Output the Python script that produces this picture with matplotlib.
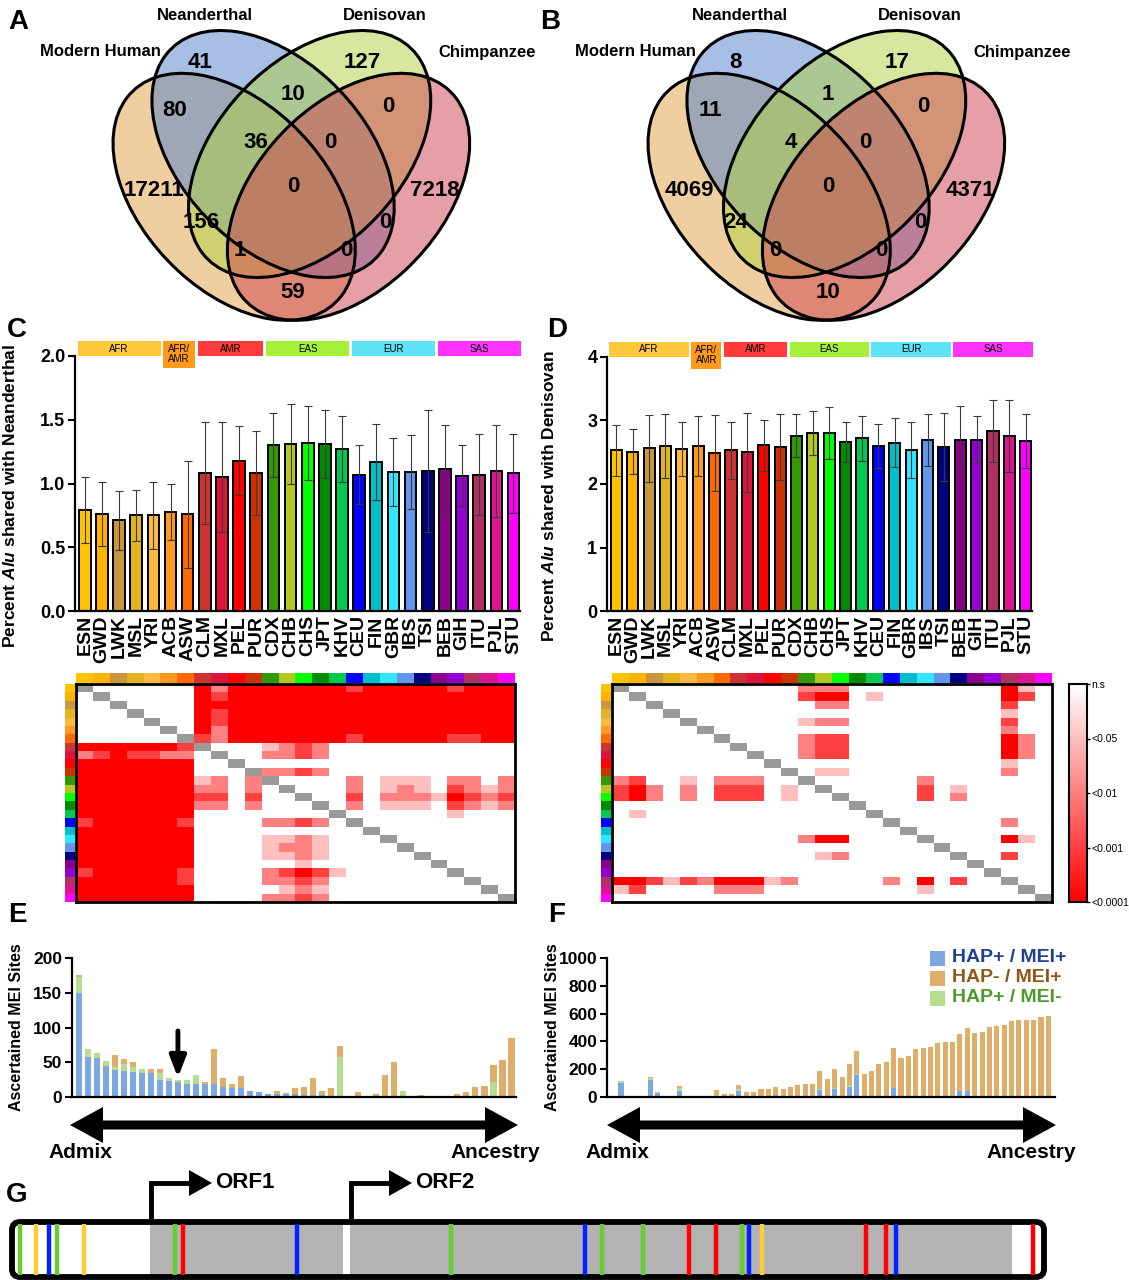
import numpy as np
import matplotlib
matplotlib.use('Agg')
import matplotlib.pyplot as plt
from matplotlib.patches import Ellipse, Rectangle, Polygon, FancyBboxPatch
from matplotlib.colors import ListedColormap, LinearSegmentedColormap
import matplotlib.transforms as mtransforms

plt.rcParams['font.family'] = ['Liberation Sans', 'DejaVu Sans']
plt.rcParams['font.weight'] = 'bold'
plt.rcParams['axes.labelweight'] = 'bold'
plt.rcParams['mathtext.fontset'] = 'custom'
plt.rcParams['mathtext.it'] = 'Liberation Sans:italic:bold'
plt.rcParams['mathtext.rm'] = 'Liberation Sans:bold'
plt.rcParams['mathtext.bf'] = 'Liberation Sans:bold'

# ------------------------------------------------------------------ data
venn_set_names = ['Modern Human', 'Neanderthal', 'Denisovan', 'Chimpanzee']
venn_regions = ['1000', '0100', '0010', '0001', '1100', '0110', '0011', '1110',
                '0111', '1111', '1010', '0101', '1011', '1101', '1001']
venn_A_counts = [17211, 41, 127, 7218, 80, 10, 0, 36, 0, 0, 156, 0, 1, 0, 59]
venn_B_counts = [4069, 8, 17, 4371, 11, 1, 0, 4, 0, 0, 24, 0, 0, 0, 10]

populations = ['ESN', 'GWD', 'LWK', 'MSL', 'YRI', 'ACB', 'ASW', 'CLM', 'MXL', 'PEL',
               'PUR', 'CDX', 'CHB', 'CHS', 'JPT', 'KHV', 'CEU', 'FIN', 'GBR', 'IBS',
               'TSI', 'BEB', 'GIH', 'ITU', 'PJL', 'STU']
pop_colors = ['#FFC400', '#FFB300', '#C8963E', '#E2B41F', '#FFB940', '#FF9A1E', '#FF6A00',
              '#CC3333', '#DC143C', '#FF0000', '#CC3300', '#339900', '#B2C81E', '#00FF00',
              '#008B00', '#00C850', '#0000FF', '#00BFC8', '#33E6FF', '#6495ED', '#000080',
              '#8B008B', '#9400D3', '#B03060', '#DC1490', '#FF00FF']
super_pops = ['AFR', 'AFR/\nAMR', 'AMR', 'EAS', 'EUR', 'SAS']
super_first = [0, 5, 7, 11, 16, 21]
super_last = [4, 6, 10, 15, 20, 25]
super_colors = ['#FFC83C', '#FF9A1A', '#FF3B3B', '#A6F03A', '#5DE3F5', '#FF33FF']

neand_pct = [0.79, 0.76, 0.71, 0.75, 0.75, 0.78, 0.76, 1.08, 1.05, 1.18, 1.08, 1.30, 1.31,
             1.32, 1.31, 1.27, 1.07, 1.17, 1.09, 1.09, 1.10, 1.11, 1.06, 1.07, 1.10, 1.08]
neand_sd = [0.26, 0.25, 0.23, 0.20, 0.26, 0.22, 0.42, 0.40, 0.43, 0.27, 0.33, 0.25, 0.31,
            0.29, 0.27, 0.26, 0.23, 0.30, 0.27, 0.29, 0.48, 0.35, 0.24, 0.32, 0.36, 0.31]
denis_pct = [2.53, 2.51, 2.56, 2.60, 2.55, 2.60, 2.49, 2.53, 2.50, 2.61, 2.58, 2.76, 2.80,
             2.80, 2.66, 2.72, 2.60, 2.65, 2.53, 2.69, 2.58, 2.69, 2.70, 2.83, 2.76, 2.68]
denis_sd = [0.40, 0.36, 0.53, 0.50, 0.42, 0.47, 0.60, 0.45, 0.62, 0.40, 0.52, 0.34, 0.35,
            0.41, 0.32, 0.35, 0.35, 0.39, 0.44, 0.41, 0.54, 0.54, 0.37, 0.49, 0.57, 0.43]

sig_labels = ['n.s', '<0.05', '<0.01', '<0.001', '<0.0001']
# significance level per population pair (0 = n.s ... 4 = <0.0001)
sig_neand = [
    '0000000' + '42' + '4444444' + '3' + '44444' + '3' + '444',
    '0000000' + '43' + '4' * 17,
    '0000000' + '4' * 19,
    '0000000' + '43' + '4' * 17,
    '0000000' + '43' + '4' * 17,
    '0000000' + '42' + '4' * 17,
    '0000000' + '32' + '4444444' + '3' + '44444' + '33' + '44',
    '4444443' + '0000' + '1232' + '0' * 11,
    '2343322' + '0000' + '2232' + '0' * 11,
    '4444444' + '0' * 19,
    '4444444' + '0000' + '2232' + '0' * 11,
    '4444444' + '12' + '0' + '2' + '0' + '0000' + '2' + '0' + '111' + '0' + '22' + '0' + '2',
    '4444444' + '22' + '0' + '2' + '00' + '000' + '2' + '0' + '121' + '0' + '32' + '1' + '2',
    '4444444' + '33' + '0' + '3' + '000' + '00' + '3' + '0' + '222' + '1' + '43' + '2' + '3',
    '4444444' + '22' + '0' + '2' + '0000' + '0' + '2' + '0' + '111' + '0' + '32' + '1' + '2',
    '4444444' + '0' * 15 + '1' + '000',
    '3444443' + '0000' + '2232' + '0' * 11,
    '4444444' + '0' * 19,
    '4444444' + '0000' + '1121' + '0' * 11,
    '4444444' + '0000' + '1221' + '0' * 11,
    '4444444' + '0000' + '1121' + '0' * 11,
    '4444444' + '000000' + '1' + '0' * 12,
    '3444443' + '0000' + '23431' + '0' * 10,
    '4444443' + '0000' + '2232' + '0' * 11,
    '4444444' + '0000' + '0121' + '0' * 11,
    '4444444' + '0000' + '2232' + '0' * 11,
]
sig_denis = [
    '0' * 11 + '222' + '0' * 9 + '41' + '0',
    '0' * 11 + '344' + '0' + '1' + '0' * 7 + '43' + '0',
    '0' * 12 + '22' + '0' * 9 + '3' + '00',
    '0' * 23 + '1' + '00',
    '0' * 11 + '122' + '0' * 9 + '3' + '00',
    '0' * 23 + '2' + '00',
    '0' * 11 + '233' + '0' * 9 + '42' + '0',
    '0' * 11 + '233' + '0' * 9 + '42' + '0',
    '0' * 11 + '233' + '0' * 9 + '42' + '0',
    '0' * 23 + '1' + '00',
    '0' * 12 + '11' + '0' * 9 + '2' + '00',
    '23' + '00' + '1' + '0' + '222' + '0' * 9 + '2' + '0' * 7,
    '342' + '0' + '2' + '0' + '333' + '0' + '1' + '0' * 7 + '3' + '0' + '1' + '0' * 5,
    '342' + '0' + '2' + '0' + '333' + '0' + '1' + '0' * 7 + '3' + '0' + '2' + '0' * 5,
    '0' * 26,
    '01' + '0' * 24,
    '0' * 23 + '2' + '00',
    '0' * 26,
    '0' * 11 + '244' + '0' * 9 + '41' + '0',
    '0' * 26,
    '0' * 12 + '12' + '0' * 9 + '3' + '00',
    '0' * 26,
    '0' * 26,
    '443132' + '444' + '1' + '2' + '00000' + '2' + '0' + '4' + '0' + '3' + '00000',
    '13' + '0000' + '222' + '0' * 9 + '1' + '0' * 7,
    '0' * 26,
]

# Panel E (Neanderthal) ascertained MEI sites, sorted admix -> ancestry
E_hap_mei = [149, 57, 56, 44, 39, 37, 36, 34, 34, 24, 23, 21, 19, 19, 19, 19, 15, 13, 13, 8,
             7, 4, 5, 4, 4, 3, 3, 3, 2, 2, 2, 0, 0, 0, 0, 0, 0, 0, 0, 0, 0, 0, 0, 0, 0, 0,
             0, 0, 0]
E_hap_nomei = [23, 12, 8, 8, 4, 10, 7, 6, 0, 10, 4, 4, 5, 12, 0, 0, 0, 0, 0, 0, 0, 0, 0, 0,
               0, 0, 0, 0, 0, 56, 0, 0, 0, 0, 0, 0, 8, 0, 0, 0, 0, 0, 0, 0, 0, 0, 22, 0, 0]
E_nohap_mei = [4, 0, 0, 0, 17, 8, 7, 0, 6, 7, 0, 0, 0, 0, 3, 50, 12, 5, 17, 0, 0, 0, 4, 2,
               9, 12, 24, 5, 11, 15, 0, 7, 0, 4, 32, 50, 0, 2, 3, 2, 2, 2, 4, 7, 15, 16, 24,
               53, 85]
E_arrow_index = 11

# Panel F (Denisovan)
F_hap_mei = [100, 0, 0, 0, 122, 28, 0, 0, 42, 0, 0, 0, 0, 3, 0, 0, 40, 0, 0, 5, 0, 14, 0, 0,
             0, 0, 0, 47, 0, 60, 0, 75, 157, 0, 0, 0, 0, 66, 0, 0, 0, 0, 0, 0, 0, 0, 42, 42,
             0, 0, 0, 0, 0, 0, 0, 0, 0, 0, 0]
F_hap_nomei = [15, 0, 0, 0, 15, 5, 0, 0, 20, 0, 0, 0, 0, 8, 0, 0, 15, 0, 0, 0, 0, 0, 0, 0,
               0, 0, 0, 9, 0, 5, 0, 10, 10, 0, 0, 0, 0, 0, 0, 0, 0, 0, 0, 0, 0, 0, 0, 0,
               0, 0, 0, 0, 0, 0, 0, 0, 0, 0, 0]
F_nohap_mei = [3, 0, 0, 0, 5, 5, 7, 7, 15, 5, 5, 6, 7, 42, 24, 24, 28, 35, 38, 51, 56, 59,
               56, 70, 87, 94, 94, 130, 129, 135, 146, 150, 162, 162, 188, 239, 249, 286,
               282, 296, 343, 352, 357, 390, 399, 399, 409, 451, 460, 465, 502, 512, 521,
               545, 554, 554, 554, 573, 582]
mei_labels = ['HAP+ / MEI+', 'HAP- / MEI+', 'HAP+ / MEI-']

# Panel G: variant positions along the element and their class
g_variant_pos = [20, 36, 49, 57, 84, 175, 183, 297, 451, 585, 602, 643, 689, 716, 742, 749,
                 762, 866, 886, 896, 1033]
g_variant_cls = ['g', 'y', 'b', 'g', 'y', 'g', 'r', 'b', 'g', 'b', 'g', 'g', 'r', 'r', 'g',
                 'b', 'y', 'r', 'r', 'b', 'r']
g_orf_names = ['ORF1', 'ORF2']
g_orf_start = [151, 351]
g_coding_segments = [(150, 343), (350, 1012)]

# ------------------------------------------------------------------ layout
W, H = 1129, 1280
fig = plt.figure(figsize=(W / 100, H / 100), dpi=100)
fig.patch.set_facecolor('white')


def px_axes(l, t, r, b, **kw):
    return fig.add_axes([l / W, 1 - b / H, (r - l) / W, (b - t) / H], **kw)


BLUE, ORANGE, GREEN = '#7DA7E0', '#DFAE6B', '#B5DE8E'
VENN_COLORS = ['#E1A141', '#5181CD', '#B1D141', '#D14151']
VENN_ELL = [(0.350, 0.400, 140), (0.450, 0.500, 140), (0.544, 0.500, 40), (0.644, 0.400, 40)]
VENN_TXT = {'1000': (154, 190), '0100': (200, 63), '0010': (362, 62), '0001': (435, 190),
            '1100': (175, 110), '0110': (293, 95), '0011': (388, 106), '1110': (256, 142),
            '0111': (330, 142), '1111': (293, 186), '1010': (201, 222), '0101': (385, 222),
            '1011': (240, 250), '1101': (346, 250), '1001': (293, 292)}
VENN_LBL = [(100, 52), (205, 16), (385, 16), (487, 52)]

ov = fig.add_axes([0, 0, 1, 1])
ov.set_xlim(0, W)
ov.set_ylim(H, 0)
ov.axis('off')
ov.set_zorder(10)


def draw_venn(dx, counts):
    ax = px_axes(dx + 60, 20, dx + 540, 330)
    ax.set_xlim(-0.0977, 1.1362)
    ax.set_ylim(0.0888, 0.8131)
    ax.axis('off')
    for (cx, cy, ang), col in zip(VENN_ELL, VENN_COLORS):
        ax.add_patch(Ellipse((cx, cy), 0.72, 0.45, angle=ang, facecolor=col, alpha=0.5,
                             edgecolor='none'))
    for (cx, cy, ang) in VENN_ELL:
        ax.add_patch(Ellipse((cx, cy), 0.72, 0.45, angle=ang, fill=False,
                             edgecolor='black', lw=2.2))
    for key, n in zip(venn_regions, counts):
        x, y = VENN_TXT[key]
        ov.text(x + dx, y, str(n), ha='center', va='center', fontsize=16, fontweight='bold')
    for name, (x, y) in zip(venn_set_names, VENN_LBL):
        ov.text(x + dx, y, name, ha='center', va='center', fontsize=12, fontweight='bold')


draw_venn(0, venn_A_counts)
draw_venn(535, venn_B_counts)


def bar_panel(box, vals, sds, ymax, ticks, ticklabels, ylabel, label_x_px):
    l, t, r, b = box
    ax = px_axes(l, t, r, b)
    x = np.arange(len(populations))
    ax.bar(x, vals, width=0.68, color=pop_colors, edgecolor='black', linewidth=1.4, zorder=2)
    ax.errorbar(x, vals, yerr=sds, fmt='none', ecolor='#3a3a3a', elinewidth=0.8, capsize=3,
                capthick=0.8, zorder=3)
    ax.set_xlim(-0.57, 25.38)
    ax.set_ylim(0, ymax)
    ax.set_yticks(ticks)
    ax.set_yticklabels(ticklabels, fontsize=13, fontweight='bold')
    ax.set_xticks(x)
    ax.set_xticklabels(populations, rotation=90, fontsize=14, fontweight='bold')
    ax.tick_params(axis='x', length=0, pad=3)
    ax.tick_params(axis='y', length=5, width=1.5, pad=2)
    for s in ['top', 'right']:
        ax.spines[s].set_visible(False)
    for s in ['left', 'bottom']:
        ax.spines[s].set_linewidth(1.6)
    ax.set_ylabel(ylabel, fontsize=12.5, fontweight='bold')
    ax.yaxis.set_label_coords((label_x_px - l) / (r - l), 0.45)
    trans = mtransforms.blended_transform_factory(ax.transData, ax.transAxes)
    hpx = b - t
    for name, f, la, col in zip(super_pops, super_first, super_last, super_colors):
        tall = '\n' in name
        y0 = 1.0 - (12 / hpx if tall else 0.0)
        y1 = 1.0 + 15 / hpx
        ax.add_patch(Rectangle((f - 0.42, y0), (la - f) + 0.84, y1 - y0, transform=trans,
                               facecolor=col, edgecolor='none', clip_on=False))
        ax.text((f + la) / 2, (y0 + y1) / 2, name, transform=trans, ha='center', va='center',
                fontsize=7, fontweight='normal', linespacing=1.0)
    return ax


bar_panel((75, 356, 520, 611), neand_pct, neand_sd, 2.0, [0, 0.5, 1.0, 1.5, 2.0],
          ['0.0', '0.5', '1.0', '1.5', '2.0'],
          r'Percent $\mathit{Alu}$ shared with Neanderthal', 18)
bar_panel((607, 357, 1032, 611), denis_pct, denis_sd, 4.0, [0, 1, 2, 3, 4],
          ['0', '1', '2', '3', '4'],
          r'Percent $\mathit{Alu}$ shared with Denisovan', 557)

# heatmaps
level_colors = ['#FFFFFF', '#FFBFBF', '#FF8080', '#FF4040', '#FF0000', '#9A9A9A']
level_cmap = ListedColormap(level_colors)


def heat_panel(l, r, rows):
    M = np.array([[int(c) for c in row] for row in rows], dtype=float)
    np.fill_diagonal(M, 5)
    ax = px_axes(l, 684, r, 902)
    ax.imshow(M, cmap=level_cmap, vmin=-0.5, vmax=5.5, aspect='auto', interpolation='nearest')
    ax.set_xticks([])
    ax.set_yticks([])
    for s in ax.spines.values():
        s.set_linewidth(2)
    n = len(populations)
    top = px_axes(l, 673, r, 683)
    top.imshow(np.arange(n)[None, :], cmap=ListedColormap(pop_colors), aspect='auto',
               interpolation='nearest')
    top.axis('off')
    left = px_axes(l - 11, 684, l - 1, 902)
    left.imshow(np.arange(n)[:, None], cmap=ListedColormap(pop_colors), aspect='auto',
                interpolation='nearest')
    left.axis('off')


heat_panel(76, 515, sig_neand)
heat_panel(612, 1052, sig_denis)

cax = px_axes(1069, 684, 1087, 902)
grad_cmap = LinearSegmentedColormap.from_list('wr', ['#FFFFFF', '#FF0000'])
cax.imshow(np.linspace(0, 4, 256)[:, None], cmap=grad_cmap, aspect='auto',
           extent=[0, 1, 4, 0])
cax.set_xticks([])
cax.yaxis.tick_right()
cax.set_yticks(range(len(sig_labels)))
cax.set_yticklabels(sig_labels, fontsize=7.5, fontweight='normal')
cax.tick_params(axis='y', length=2, width=1, pad=1)
for s in cax.spines.values():
    s.set_linewidth(1.5)


def mei_panel(box, hap_mei, hap_nomei, nohap_mei, ymax, step, xlim, label_x_px):
    l, t, r, b = box
    ax = px_axes(l, t, r, b)
    a = np.array(hap_mei, float)
    g = np.array(hap_nomei, float)
    o = np.array(nohap_mei, float)
    x = np.arange(len(a))
    ax.bar(x, a, width=0.68, color=BLUE, linewidth=0)
    ax.bar(x, g, bottom=a, width=0.68, color=GREEN, linewidth=0)
    ax.bar(x, o, bottom=a + g, width=0.68, color=ORANGE, linewidth=0)
    ax.set_xlim(*xlim)
    ax.set_ylim(0, ymax)
    ax.set_yticks(np.arange(0, ymax + 1, step))
    ax.set_yticklabels([str(int(v)) for v in np.arange(0, ymax + 1, step)], fontsize=12.5,
                       fontweight='bold')
    ax.set_xticks([])
    ax.tick_params(axis='y', length=5, width=1.5, pad=2)
    for s in ['top', 'right']:
        ax.spines[s].set_visible(False)
    for s in ['left', 'bottom']:
        ax.spines[s].set_linewidth(1.6)
    ax.set_ylabel('Ascertained MEI Sites', fontsize=11.5, fontweight='bold')
    ax.yaxis.set_label_coords((label_x_px - l) / (r - l), 0.5)
    return ax, a + g + o


axE, totE = mei_panel((72, 958, 516, 1097), E_hap_mei, E_hap_nomei, E_nohap_mei, 200, 50,
                      (-0.75, 48.5), 24)
axE.annotate('', xy=(E_arrow_index, totE[E_arrow_index] + 3),
             xytext=(E_arrow_index, totE[E_arrow_index] + 70),
             arrowprops=dict(arrowstyle='-|>,head_width=0.35,head_length=0.9', lw=3.5,
                             color='black', shrinkA=0, shrinkB=0, mutation_scale=14))
axF, totF = mei_panel((607, 958, 1055, 1097), F_hap_mei, F_hap_nomei, F_nohap_mei, 1000, 200,
                      (-1.9, 58.9), 560)

# legend for F
for i, (lab, col, tcol) in enumerate(zip(mei_labels, [BLUE, ORANGE, GREEN],
                                         ['#1F3F8F', '#8B5A1A', '#4C9A2A'])):
    yc = 958 + i * 20
    ov.add_patch(Rectangle((930, yc - 7.5), 15, 15, facecolor=col, edgecolor='none'))
    ov.text(952, yc, lab, color=tcol, fontsize=14, fontweight='bold', ha='left', va='center')


def double_arrow(x0, x1, y, hl=33, hh=18, sh=4.5):
    pts = [(x0, y), (x0 + hl, y - hh), (x0 + hl, y - sh), (x1 - hl, y - sh), (x1 - hl, y - hh),
           (x1, y), (x1 - hl, y + hh), (x1 - hl, y + sh), (x0 + hl, y + sh), (x0 + hl, y + hh)]
    ov.add_patch(Polygon(pts, closed=True, facecolor='black', edgecolor='none'))


double_arrow(70, 518, 1125)
double_arrow(607, 1056, 1125)
for xa, xb in [(80, 495), (617, 1031)]:
    ov.text(xa, 1153, 'Admix', fontsize=15, fontweight='bold', ha='center', va='center')
    ov.text(xb, 1153, 'Ancestry', fontsize=15, fontweight='bold', ha='center', va='center')

# panel G
gcol = {'g': '#66CC33', 'y': '#FFCC33', 'b': '#0022FF', 'r': '#FF0000'}
ov.add_patch(FancyBboxPatch((12, 1222), 1032, 55, boxstyle='round,pad=0,rounding_size=8',
                            facecolor='white', edgecolor='none'))
for s0, s1 in g_coding_segments:
    ov.add_patch(Rectangle((s0, 1224), s1 - s0, 51, facecolor='#B3B3B3', edgecolor='none'))
for p, c in zip(g_variant_pos, g_variant_cls):
    ov.plot([p, p], [1224, 1275], color=gcol[c], lw=3.2, solid_capstyle='butt')
ov.add_patch(FancyBboxPatch((12, 1222), 1032, 55, boxstyle='round,pad=0,rounding_size=8',
                            facecolor='none', edgecolor='black', lw=4.2))
for name, xs in zip(g_orf_names, g_orf_start):
    ov.plot([xs, xs, xs + 40], [1222, 1183, 1183], color='black', lw=3.5,
            solid_joinstyle='miter', solid_capstyle='butt')
    ov.add_patch(Polygon([(xs + 38, 1170), (xs + 38, 1196), (xs + 61, 1183)], closed=True,
                         facecolor='black', edgecolor='none'))
    ov.text(xs + 64, 1183, name, fontsize=16, fontweight='bold', ha='left', va='center')

for lab, (x, y) in zip('ABCDEFG', [(18, 22), (550, 22), (17, 330), (557, 330), (17, 915),
                                   (557, 915), (17, 1195)]):
    ov.text(x, y, lab, fontsize=20, fontweight='bold', ha='center', va='center')

fig.savefig('out.png', dpi=100, facecolor='white')
